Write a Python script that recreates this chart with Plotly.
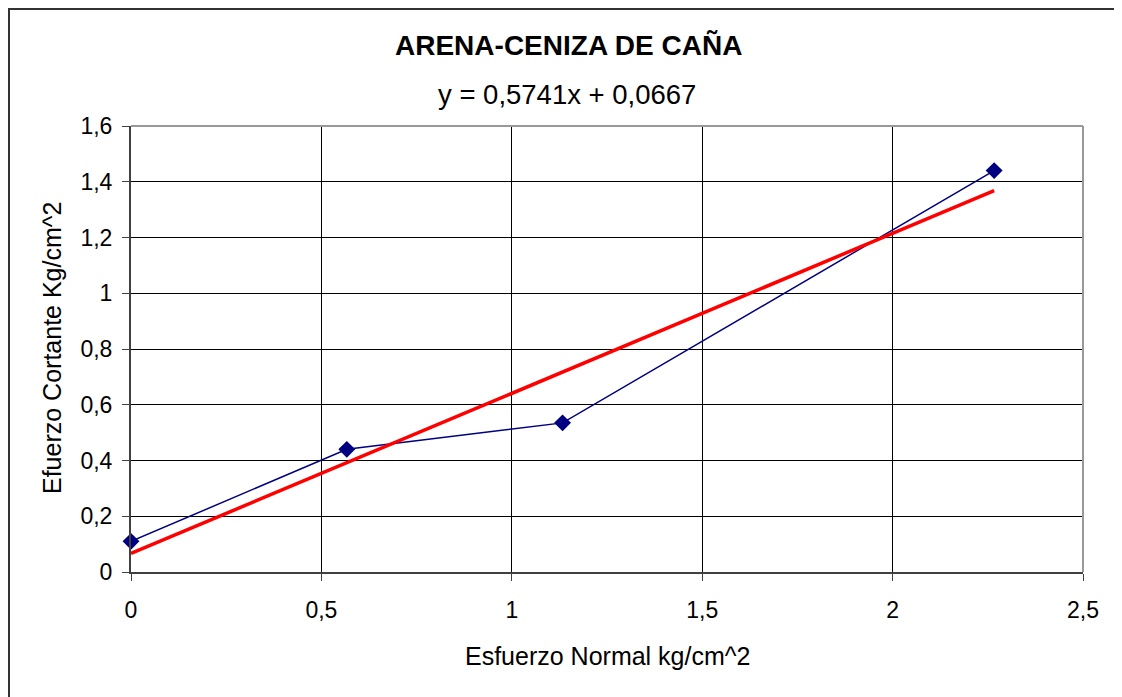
import plotly.graph_objects as go

# Data
x_normal = [0, 0.5667, 1.1333, 2.2667]
y_cortante = [0.11, 0.44, 0.535, 1.44]

# Linear trend line (y = 0,5741x + 0,0667) endpoints as drawn
trend_x = [0, 2.2667]
trend_y = [0.0667, 1.368]

title_text = "ARENA-CENIZA DE CAÑA"
equation_text = "y = 0,5741x + 0,0667"
x_title = "Esfuerzo Normal kg/cm^2"
y_title = "Efuerzo Cortante Kg/cm^2"

FONT = "Liberation Sans, Arial, sans-serif"

fig = go.Figure()
fig.add_trace(go.Scatter(
    x=x_normal, y=y_cortante, mode="lines+markers",
    line=dict(color="#000080", width=1.5),
    marker=dict(symbol="diamond", size=13, color="#000080"),
    showlegend=False, cliponaxis=False,
))
fig.add_trace(go.Scatter(
    x=trend_x, y=trend_y, mode="lines",
    line=dict(color="#FF0000", width=3.5),
    showlegend=False,
))

# page is offset by the 8px body margin; work in figure coords
OFF = 8
W, H = 1122 - OFF, 697 - OFF
L, T = 131 - OFF, 126 - OFF
R = W - (1083 - OFF)
B = H - (572 - OFF)
pw, ph = W - L - R, H - T - B

def px(xp):
    return (xp - OFF - L) / pw

def py(yp):
    return (H - B - (yp - OFF)) / ph

fig.update_layout(
    width=W, height=H,
    margin=dict(l=L, r=R, t=T, b=B),
    paper_bgcolor="white", plot_bgcolor="white",
    separators=",.",
    font=dict(family=FONT, color="black", size=24),
    xaxis=dict(
        range=[0, 2.5], dtick=0.5, tick0=0,
        showgrid=True, gridcolor="#000000", gridwidth=1,
        showline=True, linecolor="#404040", linewidth=2,
        ticks="outside", ticklen=7, tickcolor="#404040", tickwidth=1,
        zeroline=False, mirror=False,
        tickfont=dict(size=23), ticklabelstandoff=9,
    ),
    yaxis=dict(
        range=[0, 1.6], dtick=0.2, tick0=0,
        showgrid=True, gridcolor="#000000", gridwidth=1,
        showline=True, linecolor="#404040", linewidth=2,
        ticks="outside", ticklen=7, tickcolor="#404040", tickwidth=1,
        zeroline=False,
        tickfont=dict(size=23), ticklabelstandoff=5,
    ),
    shapes=[
        dict(type="line", xref="paper", yref="paper", x0=0, x1=1, y0=1, y1=1,
             line=dict(color="#999999", width=2)),
        dict(type="line", xref="paper", yref="paper", x0=1, x1=1, y0=0, y1=1,
             line=dict(color="#999999", width=2)),
        dict(type="rect", xref="paper", yref="paper",
             x0=px(9), x1=px(1119), y0=py(705), y1=py(9),
             line=dict(color="#333333", width=2), layer="above"),
    ],
    annotations=[
        dict(text="<b>" + title_text + "</b>", xref="paper", yref="paper",
             x=px(568), y=py(45), xanchor="center", yanchor="middle",
             showarrow=False, font=dict(size=28, family=FONT)),
        dict(text=equation_text, xref="paper", yref="paper",
             x=px(567), y=py(95), xanchor="center", yanchor="middle",
             showarrow=False, font=dict(size=27.5, family=FONT)),
        dict(text=x_title, xref="paper", yref="paper",
             x=px(607), y=py(656), xanchor="center", yanchor="middle",
             showarrow=False, font=dict(size=25, family=FONT)),
        dict(text=y_title, xref="paper", yref="paper", textangle=-90,
             x=px(52), y=py(348), xanchor="center", yanchor="middle",
             showarrow=False, font=dict(size=25, family=FONT)),
    ],
)

fig.write_html("out.html")
